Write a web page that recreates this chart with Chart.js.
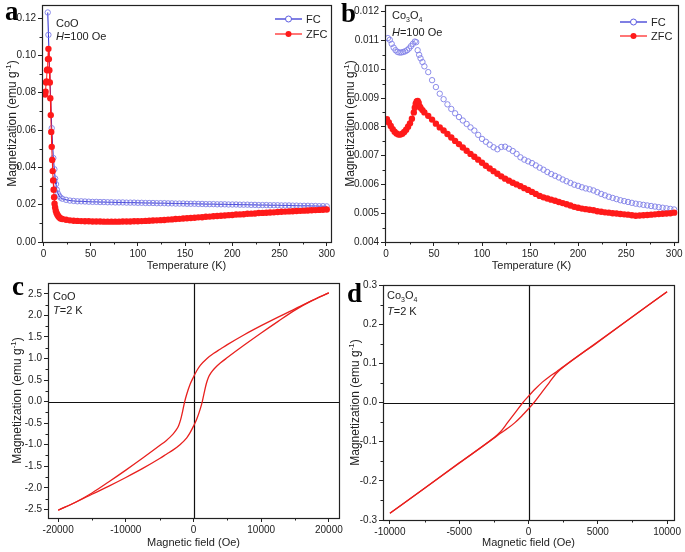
<!DOCTYPE html>
<html>
<head>
<meta charset="utf-8">
<script src="https://cdn.jsdelivr.net/npm/chart.js@4.4.1/dist/chart.umd.min.js"></script>
<style>
  body { margin: 0; background: #fff; }
  #wrap { position: relative; width: 685px; height: 552px; overflow: hidden; }
  canvas { position: absolute; }
</style>
</head>
<body>
<div id="wrap">
  <canvas id="cA" width="345" height="275" style="left:0;top:0"></canvas>
  <canvas id="cB" width="347" height="275" style="left:338px;top:0"></canvas>
  <canvas id="cC" width="350" height="277" style="left:0;top:275px"></canvas>
  <canvas id="cD" width="347" height="277" style="left:338px;top:275px"></canvas>
</div>
<script>
// ---- panel a : CoO, M vs T ----
const fcLowTempA = [4.6, 5.3, 8.8, 10.5, 11.6, 12.4, 13.3, 14.2, 15.3, 16.6, 18.0];
const fcLowMagA = [0.123, 0.111, 0.061, 0.045, 0.039, 0.034, 0.031, 0.028, 0.026, 0.0248, 0.0238];
const zfcLowTempA = [1.8, 2.3, 2.8, 3.3, 3.8, 4.3, 4.8, 5.3, 5.8, 6.3, 6.8, 7.3, 7.8, 8.3, 8.8, 9.3, 9.8, 10.3, 10.8, 11.3,
  11.8, 12.4, 13.1, 13.9, 14.8, 15.8, 16.9, 18.2];
const zfcLowMagA = [0.079, 0.0805, 0.0855, 0.0860, 0.092, 0.0925, 0.098, 0.1035, 0.098, 0.092, 0.0855, 0.077, 0.068, 0.059,
  0.051, 0.044, 0.038, 0.033, 0.028, 0.024, 0.0205, 0.0185, 0.0168, 0.0156, 0.0146, 0.0138, 0.0131, 0.0126];
const gridTempA = [20, 24, 28, 32, 36, 40, 44, 48, 52, 56, 60, 64, 68, 72, 76, 80, 84, 88, 92, 96, 100, 104, 108, 112, 116,
  120, 124, 128, 132, 136, 140, 144, 148, 152, 156, 160, 164, 168, 172, 176, 180, 184, 188, 192, 196, 200, 204, 208, 212,
  216, 220, 224, 228, 232, 236, 240, 244, 248, 252, 256, 260, 264, 268, 272, 276, 280, 284, 288, 292, 296, 300];
const fcMagA = [0.0232, 0.0226, 0.0222, 0.0220, 0.0218, 0.0218, 0.0217, 0.0216, 0.0215, 0.0215,
  0.0214, 0.0214, 0.0213, 0.0213, 0.0212, 0.0212, 0.0212, 0.0211, 0.0211, 0.0211,
  0.0210, 0.0210, 0.0209, 0.0209, 0.0209, 0.0208, 0.0208, 0.0208, 0.0207, 0.0207,
  0.0206, 0.0206, 0.0206, 0.0205, 0.0205, 0.0205, 0.0204, 0.0204, 0.0203, 0.0203,
  0.0203, 0.0202, 0.0202, 0.0202, 0.0201, 0.0201, 0.0201, 0.0200, 0.0200, 0.0200,
  0.0199, 0.0199, 0.0198, 0.0198, 0.0198, 0.0197, 0.0197, 0.0197, 0.0196, 0.0196,
  0.0196, 0.0195, 0.0195, 0.0194, 0.0194, 0.0194, 0.0193, 0.0193, 0.0192, 0.0192, 0.0191];
const zfcMagA = [0.0123, 0.0119, 0.0116, 0.0114, 0.0113, 0.0112, 0.0111, 0.0111, 0.0110, 0.0110,
  0.0110, 0.0109, 0.0109, 0.0109, 0.0109, 0.0109, 0.0110, 0.0110, 0.0110, 0.0111,
  0.0111, 0.0112, 0.0113, 0.0114, 0.0115, 0.0116, 0.0117, 0.0118, 0.0120, 0.0121,
  0.0123, 0.0124, 0.0126, 0.0127, 0.0129, 0.0130, 0.0132, 0.0133, 0.0135, 0.0136,
  0.0138, 0.0139, 0.0141, 0.0142, 0.0144, 0.0145, 0.0147, 0.0148, 0.0149, 0.0151,
  0.0152, 0.0153, 0.0155, 0.0156, 0.0157, 0.0158, 0.0159, 0.0161, 0.0162, 0.0163,
  0.0164, 0.0165, 0.0166, 0.0167, 0.0168, 0.0169, 0.0170, 0.0171, 0.0172, 0.0173, 0.0174];
const ticksTempA = [0, 50, 100, 150, 200, 250, 300];
const ticksMagA = [0, 0.02, 0.04, 0.06, 0.08, 0.10, 0.12];

// ---- panel b : Co3O4, M vs T ----
const fcLowTempB = [2, 4, 6, 8, 10, 12, 14, 16, 18, 20, 22, 24, 26, 28, 30, 31.5, 33, 34.5, 36, 38, 40];
const fcLowMagB = [0.01108, 0.01102, 0.01088, 0.01075, 0.01066, 0.01060, 0.01058, 0.01058, 0.01060, 0.01062, 0.01066,
  0.01072, 0.01080, 0.01088, 0.01096, 0.01094, 0.01066, 0.01050, 0.01038, 0.01025, 0.01010];
const zfcLowTempB = [1, 3, 5, 7, 9, 11, 13, 15, 17, 19, 21, 23, 25, 27, 29, 30, 31, 32, 33, 34, 35, 36, 38, 40];
const zfcLowMagB = [0.00826, 0.00815, 0.00803, 0.00792, 0.00783, 0.00777, 0.00773, 0.00773, 0.00776, 0.00782, 0.00790,
  0.00800, 0.00812, 0.00828, 0.00850, 0.00866, 0.00880, 0.00888, 0.00890, 0.00884, 0.00872, 0.00866, 0.00858, 0.00850];
const gridTempB = [44, 48, 52, 56, 60, 64, 68, 72, 76, 80, 84, 88, 92, 96, 100, 104, 108, 112, 116, 120, 124, 128, 132,
  136, 140, 144, 148, 152, 156, 160, 164, 168, 172, 176, 180, 184, 188, 192, 196, 200, 204, 208, 212, 216, 220, 224, 228,
  232, 236, 240, 244, 248, 252, 256, 260, 264, 268, 272, 276, 280, 284, 288, 292, 296, 300];
const fcMagB = [0.00990, 0.00962, 0.00938, 0.00915, 0.00896, 0.00878, 0.00862, 0.00847, 0.00834, 0.00822,
  0.00810, 0.00798, 0.00787, 0.00772, 0.00758, 0.00748, 0.00738, 0.00729, 0.00722, 0.00730,
  0.00731, 0.00724, 0.00716, 0.00706, 0.00694, 0.00686, 0.00680, 0.00674, 0.00666, 0.00658,
  0.00651, 0.00643, 0.00636, 0.00630, 0.00624, 0.00617, 0.00611, 0.00605, 0.00599, 0.00595,
  0.00590, 0.00586, 0.00583, 0.00579, 0.00573, 0.00567, 0.00562, 0.00557, 0.00553, 0.00549,
  0.00545, 0.00542, 0.00539, 0.00536, 0.00533, 0.00531, 0.00529, 0.00527, 0.00525, 0.00523,
  0.00521, 0.00519, 0.00517, 0.00515, 0.00513];
const zfcMagB = [0.00838, 0.00825, 0.00811, 0.00798, 0.00787, 0.00775, 0.00763, 0.00751, 0.00740, 0.00728,
  0.00717, 0.00706, 0.00696, 0.00686, 0.00675, 0.00665, 0.00655, 0.00646, 0.00637, 0.00628,
  0.00620, 0.00613, 0.00606, 0.00600, 0.00594, 0.00587, 0.00581, 0.00574, 0.00567, 0.00560,
  0.00555, 0.00551, 0.00547, 0.00543, 0.00539, 0.00535, 0.00531, 0.00527, 0.00522, 0.00519,
  0.00516, 0.00514, 0.00512, 0.00510, 0.00507, 0.00505, 0.00503, 0.00502, 0.00500, 0.00499,
  0.00497, 0.00496, 0.00495, 0.00493, 0.00491, 0.00492, 0.00493, 0.00494, 0.00495, 0.00496,
  0.00497, 0.00498, 0.00499, 0.00500, 0.00502];
const ticksTempB = [0, 50, 100, 150, 200, 250, 300];
const ticksMagB = [0.004, 0.005, 0.006, 0.007, 0.008, 0.009, 0.010, 0.011, 0.012];

// ---- panel c : CoO loop at 2 K ----
const downFieldC = [-20000, -17500, -15000, -12500, -10000, -7500, -5000, -4000, -3500, -3000, -2600, -2200, -1900, -1600,
  -1300, -1000, -500, 0, 500, 1000, 2000, 3000, 4000, 5000, 7500, 10000, 12500, 15000, 17500, 20000];
const downMagC = [-2.52, -2.34, -2.12, -1.86, -1.59, -1.31, -1.02, -0.90, -0.83, -0.75, -0.67, -0.56, -0.42, -0.22,
  0.0, 0.17, 0.40, 0.57, 0.72, 0.84, 1.00, 1.12, 1.22, 1.32, 1.55, 1.76, 1.96, 2.15, 2.34, 2.52];
const upFieldC = [-20000, -17500, -15000, -12500, -10000, -7500, -5000, -4000, -3000, -2000, -1000, -500, 0, 500,
  1000, 1300, 1600, 1900, 2200, 2600, 3000, 3500, 4000, 5000, 7500, 10000, 12500, 15000, 17500, 20000];
const upMagC = [-2.52, -2.34, -2.15, -1.96, -1.76, -1.55, -1.32, -1.22, -1.12, -1.00, -0.84, -0.72, -0.57, -0.40,
  -0.17, 0.0, 0.22, 0.42, 0.56, 0.67, 0.75, 0.83, 0.90, 1.02, 1.31, 1.59, 1.86, 2.12, 2.34, 2.52];
const ticksFieldC = [-20000, -10000, 0, 10000, 20000];
const ticksMagC = [-2.5, -2.0, -1.5, -1.0, -0.5, 0, 0.5, 1.0, 1.5, 2.0, 2.5];

// ---- panel d : Co3O4 loop at 2 K ----
const downFieldD = [-10000, -7500, -5000, -2500, -2000, -1500, -1000, -400, 0, 500, 1000, 1500, 2000, 2500, 5000, 7500, 10000];
const downMagD = [-0.283, -0.219, -0.154, -0.090, -0.074, -0.051, -0.028, 0.0, 0.016, 0.035, 0.052, 0.066, 0.078, 0.091,
  0.155, 0.219, 0.283];
const upFieldD = [-10000, -7500, -5000, -2500, -2000, -1500, -1000, -500, 0, 400, 1000, 1500, 2000, 2500, 5000, 7500, 10000];
const upMagD = [-0.283, -0.219, -0.155, -0.091, -0.078, -0.066, -0.052, -0.035, -0.016, 0.0, 0.028, 0.051, 0.074, 0.090,
  0.154, 0.219, 0.283];
const ticksFieldD = [-10000, -5000, 0, 5000, 10000];
const ticksMagD = [-0.3, -0.2, -0.1, 0, 0.1, 0.2, 0.3];

const FONT = '"Liberation Sans", Arial, sans-serif';
const SERIF = '"Liberation Serif", "DejaVu Serif", serif';
const INK = '#222';

function pts(xs, ys) {
  return xs.map((x, i) => ({ x: x, y: ys[i] }));
}

// text made of runs: [text, size, dy, italic]
function runFont(r) {
  return (r[3] ? 'italic ' : '') + r[1] + 'px ' + FONT;
}
function drawRuns(ctx, runs, x, y, centered) {
  let w = 0;
  for (const r of runs) { ctx.font = runFont(r); w += ctx.measureText(r[0]).width; }
  let px = centered ? x - w / 2 : x;
  const base = y + runs[0][1] * 0.36;
  ctx.textAlign = 'left';
  ctx.textBaseline = 'alphabetic';
  for (const r of runs) {
    ctx.font = runFont(r);
    ctx.fillText(r[0], px, base + (r[2] || 0));
    px += ctx.measureText(r[0]).width;
  }
}

const yTitleRuns = [['Magnetization (emu g', 12], ['-1', 8, -5], [')', 12]];

const figurePlugin = {
  id: 'figure',
  beforeDatasetsDraw(chart, args, o) {
    if (!o.zeroLines) return;
    const { ctx, chartArea: a, scales } = chart;
    const x0 = Math.round(scales.x.getPixelForValue(0)) + 0.5;
    const y0 = Math.round(scales.y.getPixelForValue(0)) + 0.5;
    ctx.save();
    ctx.strokeStyle = '#111';
    ctx.lineWidth = 1.2;
    ctx.beginPath();
    ctx.moveTo(x0, a.top); ctx.lineTo(x0, a.bottom);
    ctx.moveTo(a.left, y0); ctx.lineTo(a.right, y0);
    ctx.stroke();
    ctx.restore();
  },
  afterDraw(chart, args, o) {
    const { ctx, chartArea: a, scales } = chart;
    ctx.save();
    // frame
    ctx.strokeStyle = INK;
    ctx.lineWidth = 1.2;
    ctx.strokeRect(a.left + 0.5, a.top + 0.5, a.right - a.left, a.bottom - a.top);
    // minor ticks
    ctx.lineWidth = 1;
    ctx.beginPath();
    const xt = scales.x.ticks, yt = scales.y.ticks;
    for (let i = 0; i < xt.length - 1; i++) {
      const px = Math.round(scales.x.getPixelForValue((xt[i].value + xt[i + 1].value) / 2)) + 0.5;
      ctx.moveTo(px, a.bottom); ctx.lineTo(px, a.bottom + 2.5);
    }
    for (let i = 0; i < yt.length - 1; i++) {
      const py = Math.round(scales.y.getPixelForValue((yt[i].value + yt[i + 1].value) / 2)) + 0.5;
      ctx.moveTo(a.left, py); ctx.lineTo(a.left - 2.5, py);
    }
    ctx.stroke();

    ctx.fillStyle = INK;
    // axis titles
    drawRuns(ctx, [[o.xTitle, 11]], (a.left + a.right) / 2, o.xTitleY, true);
    ctx.save();
    ctx.translate(o.yTitleX, (a.top + a.bottom) / 2);
    ctx.rotate(-Math.PI / 2);
    drawRuns(ctx, yTitleRuns, 0, 0, true);
    ctx.restore();

    // notes inside the plot
    for (const n of o.notes) drawRuns(ctx, n[2], n[0], n[1], false);

    // legend
    if (o.legend) {
      const L = o.legend;
      for (const row of L.rows) {
        ctx.strokeStyle = row.line;
        ctx.lineWidth = 1.2;
        ctx.beginPath(); ctx.moveTo(L.x1, row.y); ctx.lineTo(L.x2, row.y); ctx.stroke();
        ctx.beginPath(); ctx.arc((L.x1 + L.x2) / 2, row.y, 3, 0, 2 * Math.PI);
        if (row.open) {
          ctx.fillStyle = '#fff'; ctx.fill();
          ctx.strokeStyle = row.mark; ctx.lineWidth = 1; ctx.stroke();
        } else {
          ctx.fillStyle = row.mark; ctx.fill();
        }
        ctx.fillStyle = INK;
        drawRuns(ctx, [[row.label, 11]], L.x2 + 4, row.y, false);
      }
    }

    // panel letter
    ctx.fillStyle = '#000';
    ctx.font = 'bold 27px ' + SERIF;
    ctx.textAlign = 'left';
    ctx.textBaseline = 'alphabetic';
    ctx.fillText(o.letter[0], o.letter[1], o.letter[2]);
    ctx.restore();
  }
};

function axis(a, dir, size) {
  return {
    type: 'linear',
    min: a.min,
    max: a.max,
    grid: { display: true, drawOnChartArea: false, drawTicks: true, tickLength: 4, tickColor: INK, tickWidth: 1 },
    border: { display: false },
    ticks: {
      autoSkip: false,
      maxRotation: 0,
      padding: 2,
      color: INK,
      font: { family: FONT, size: 10 },
      callback: v => v.toFixed(a.dec)
    },
    afterBuildTicks: s => { s.ticks = a.ticks.map(v => ({ value: v })); },
    afterFit: s => {
      if (dir === 'x') s.height = size; else s.width = size;
      s.paddingLeft = 0; s.paddingRight = 0; s.paddingTop = 0; s.paddingBottom = 0;
    }
  };
}

function makePanel(id, cfg) {
  return new Chart(document.getElementById(id), {
    type: 'scatter',
    data: { datasets: cfg.datasets },
    options: {
      responsive: false,
      animation: false,
      devicePixelRatio: 1,
      layout: { padding: cfg.padding },
      plugins: { legend: { display: false }, tooltip: { enabled: false }, figure: cfg.fig },
      scales: { x: axis(cfg.x, 'x', cfg.xHeight), y: axis(cfg.y, 'y', cfg.yWidth) }
    },
    plugins: [figurePlugin]
  });
}

const RED = '#ff1a1a';
const BLUE_LINE = '#2a2ad0';
const BLUE_MARK = '#8080e8';

function zfcSet(data, line) {
  return { data: data, showLine: line, borderColor: RED, borderWidth: 1, pointRadius: 3.2,
    pointBackgroundColor: RED, pointBorderColor: RED, pointBorderWidth: 0 };
}
function fcSet(data, line) {
  return { data: data, showLine: line, borderColor: BLUE_LINE, borderWidth: 1, pointRadius: 2.7,
    pointBackgroundColor: 'rgba(0,0,0,0)', pointBorderColor: BLUE_MARK, pointBorderWidth: 0.9 };
}
function loopSet(data) {
  return { data: data, showLine: true, borderColor: '#e8201e', borderWidth: 1.3, pointRadius: 0,
    cubicInterpolationMode: 'monotone' };
}

makePanel('cA', {
  padding: { left: 0, top: 5, right: 14, bottom: 0 },
  yWidth: 42, xHeight: 33,
  x: { min: -1.5, max: 304.5, ticks: ticksTempA, dec: 0 },
  y: { min: 0, max: 0.127, ticks: ticksMagA, dec: 2 },
  datasets: [
    zfcSet(pts(zfcLowTempA.concat(gridTempA), zfcLowMagA.concat(zfcMagA)), true),
    fcSet(pts(fcLowTempA.concat(gridTempA), fcLowMagA.concat(fcMagA)), true)
  ],
  fig: {
    letter: ['a', 5, 20], xTitle: 'Temperature (K)', xTitleY: 265, yTitleX: 12,
    notes: [[56, 23, [['CoO', 11]]], [56, 36, [['H', 11, 0, true], ['=100 Oe', 11]]]],
    legend: { x1: 275, x2: 302, rows: [
      { y: 19, label: 'FC', line: BLUE_LINE, mark: '#5a5ae0', open: true },
      { y: 34, label: 'ZFC', line: RED, mark: RED, open: false }] }
  }
});

makePanel('cB', {
  padding: { left: 0, top: 5, right: 7, bottom: 0 },
  yWidth: 47, xHeight: 33,
  x: { min: -1, max: 304, ticks: ticksTempB, dec: 0 },
  y: { min: 0.004, max: 0.01223, ticks: ticksMagB, dec: 3 },
  datasets: [
    zfcSet(pts(zfcLowTempB.concat(gridTempB), zfcLowMagB.concat(zfcMagB)), true),
    fcSet(pts(fcLowTempB.concat(gridTempB), fcLowMagB.concat(fcMagB)), false)
  ],
  fig: {
    letter: ['b', 3, 22], xTitle: 'Temperature (K)', xTitleY: 265, yTitleX: 12,
    notes: [[54, 15, [['Co', 11], ['3', 7, 3], ['O', 11], ['4', 7, 3]]],
            [54, 32, [['H', 11, 0, true], ['=100 Oe', 11]]]],
    legend: { x1: 282, x2: 309, rows: [
      { y: 22, label: 'FC', line: BLUE_LINE, mark: '#5a5ae0', open: true },
      { y: 36, label: 'ZFC', line: RED, mark: RED, open: false }] }
  }
});

makePanel('cC', {
  padding: { left: 0, top: 8, right: 11, bottom: 0 },
  yWidth: 48, xHeight: 34,
  x: { min: -21500, max: 21500, ticks: ticksFieldC, dec: 0 },
  y: { min: -2.7, max: 2.75, ticks: ticksMagC, dec: 1 },
  datasets: [loopSet(pts(downFieldC, downMagC)), loopSet(pts(upFieldC, upMagC))],
  fig: {
    letter: ['c', 12, 20], xTitle: 'Magnetic field (Oe)', xTitleY: 267, yTitleX: 17, zeroLines: true,
    notes: [[53, 21, [['CoO', 11]]], [53, 35, [['T', 11, 0, true], ['=2 K', 11]]]]
  }
});

makePanel('cD', {
  padding: { left: 0, top: 10, right: 11, bottom: 0 },
  yWidth: 45, xHeight: 32,
  x: { min: -10500, max: 10500, ticks: ticksFieldD, dec: 0 },
  y: { min: -0.3, max: 0.3, ticks: ticksMagD, dec: 1 },
  datasets: [loopSet(pts(downFieldD, downMagD)), loopSet(pts(upFieldD, upMagD))],
  fig: {
    letter: ['d', 9, 27], xTitle: 'Magnetic field (Oe)', xTitleY: 267, yTitleX: 17, zeroLines: true,
    notes: [[49, 20, [['Co', 11], ['3', 7, 3], ['O', 11], ['4', 7, 3]]],
            [49, 36, [['T', 11, 0, true], ['=2 K', 11]]]]
  }
});
</script>
</body>
</html>
